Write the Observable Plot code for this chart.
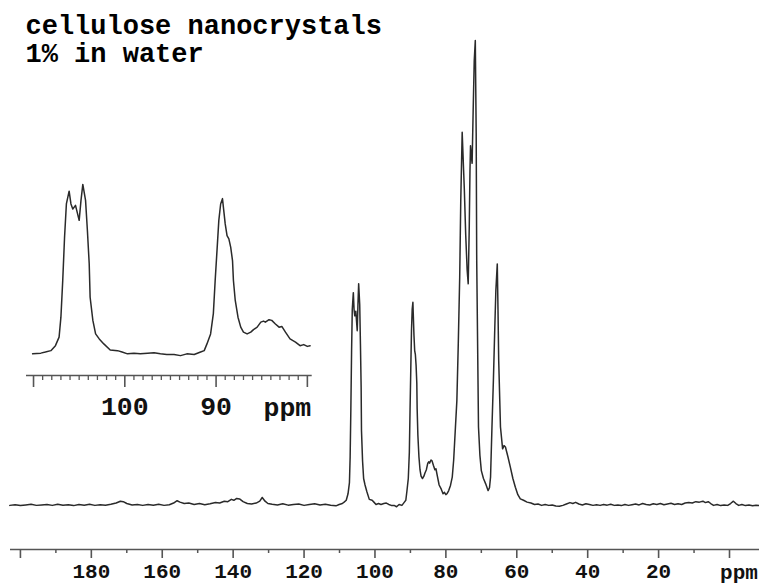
<!DOCTYPE html>
<html>
<head>
<meta charset="utf-8">
<script src="https://cdn.jsdelivr.net/npm/d3@7"></script>
<script src="https://cdn.jsdelivr.net/npm/@observablehq/plot@0.6"></script>
<style>
  body { margin: 0; background: #fff; }
  #chart { position: relative; width: 759px; height: 583px; overflow: hidden; }
  #chart svg { position: absolute; }
</style>
</head>
<body>
<div id="chart"></div>
<script>
// 13C NMR spectrum of cellulose nanocrystals, 1% in water
const titleLines = ["cellulose nanocrystals", "1% in water"];
const unitLabel = "ppm";

// chemical shift (ppm), high to low
const ppm = [
  203.0, 201.5, 200.0, 198.5, 197.0, 195.5, 194.0, 192.5, 191.0, 189.5,
  188.0, 186.5, 185.0, 183.5, 182.0, 180.5, 179.0, 177.5, 176.0, 174.5,
  173.0, 171.8, 171.0, 170.0, 168.5, 167.0, 165.5, 164.0, 162.5, 161.0,
  159.5, 158.0, 156.8, 155.8, 155.0, 153.8, 152.5, 151.0, 149.5, 148.0,
  146.5, 145.0, 143.8, 142.5, 141.5, 140.5, 139.8, 139.0, 138.2, 137.2,
  136.0, 134.8, 133.5, 132.5, 131.8, 131.0, 130.2, 129.0, 127.5, 126.0,
  124.5, 123.0, 121.5, 120.0, 118.5, 117.0, 115.5, 114.0, 112.5, 111.0,
  110.1, 109.2, 108.7, 108.1, 107.6, 107.2, 107.0, 106.8, 106.6, 106.4,
  106.1, 105.9, 105.7, 105.4, 105.0, 104.8, 104.6, 104.3, 104.1, 103.9,
  103.8, 103.5, 103.2, 102.8, 102.3, 101.6, 100.8, 100.3, 99.7, 99.0,
  98.3, 97.5, 96.8, 96.1, 95.4, 94.6, 93.9, 93.2, 92.4, 91.7,
  91.3, 91.0, 90.6, 90.3, 90.1, 89.9, 89.7, 89.5, 89.3, 89.2,
  89.0, 88.8, 88.6, 88.4, 88.2, 88.1, 87.9, 87.6, 87.3, 87.0,
  86.6, 86.2, 85.9, 85.5, 85.1, 84.8, 84.6, 84.2, 83.9, 83.5,
  83.1, 82.8, 82.4, 81.9, 81.3, 80.8, 80.4, 80.0, 79.7, 79.2,
  78.7, 78.2, 77.8, 77.3, 76.9, 76.5, 76.1, 75.8, 75.4, 75.0,
  74.8, 74.4, 74.0, 73.7, 73.4, 73.2, 73.05, 72.8, 72.6, 72.3,
  72.0, 71.7, 71.45, 71.3, 71.0, 70.8, 70.4, 70.0, 69.4, 68.8,
  68.1, 67.7, 67.4, 67.0, 66.6, 66.2, 65.9, 65.5, 65.3, 65.1,
  64.6, 64.0, 63.6, 63.2, 62.5, 61.8, 61.1, 60.4, 59.7, 59.0,
  58.1, 57.1, 56.0, 55.0, 54.0, 53.0, 52.0, 51.0, 50.0, 49.0,
  48.0, 47.0, 46.0, 45.0, 44.2, 43.4, 42.5, 41.5, 40.5, 39.5,
  38.5, 37.5, 36.5, 35.5, 34.5, 33.5, 32.5, 31.5, 30.5, 29.5,
  28.5, 27.5, 26.5, 25.5, 24.5, 23.5, 22.5, 21.5, 20.5, 19.5,
  18.5, 17.5, 16.5, 15.5, 14.5, 13.5, 12.5, 11.5, 10.5, 9.5,
  8.5, 7.5, 6.8, 6.0, 5.3, 4.5, 3.5, 2.5, 1.5, 0.5,
  -0.3, -1.1, -1.8, -2.6, -3.5, -4.5, -5.5, -6.5, -7.5, -8.4
];

// signal intensity (arbitrary units, tallest line = 100)
const intensity = [
  -0.3, -0.15, -0.35, -0.2, -0.05, -0.3, -0.2, -0.1, -0.3, -0.05,
  -0.25, -0.15, -0.35, -0.1, -0.25, -0.05, -0.3, -0.15, -0.25, -0.05,
  0.2, 0.6, 0.5, 0.1, -0.2, -0.1, -0.3, -0.1, -0.25, -0.05,
  -0.3, -0.15, 0.2, 0.7, 0.4, 0.1, 0.2, -0.1, 0.1, -0.15,
  0.05, 0.3, 0.2, 0.6, 0.5, 1.0, 0.8, 1.2, 1.1, 0.5,
  0.1, 0.0, 0.2, 0.6, 1.4, 0.6, 0.1, -0.05, -0.2, 0.05,
  -0.25, -0.1, 0.0, -0.3, -0.1, 0.05, -0.2, -0.05, -0.25, -0.4,
  -0.1, 0.1, 0.4, 0.8, 2.2, 4.6, 10.2, 20.5, 32.7, 42.0,
  45.6, 42.0, 40.6, 41.6, 37.4, 43.0, 47.5, 43.0, 34.6, 25.2,
  15.8, 9.3, 5.5, 4.1, 2.7, 1.0, 0.8, 0.4, -0.1, 0.1,
  -0.1, 0.1, 0.2, -0.1, -0.3, -0.3, -0.6, -0.1, -0.3, 0.4,
  0.8, 2.7, 5.5, 11.2, 20.5, 28.9, 37.4, 42.0, 43.5, 41.1,
  36.4, 33.1, 32.2, 29.9, 26.1, 20.5, 14.9, 10.2, 7.4, 6.0,
  5.5, 6.0, 6.7, 7.4, 8.8, 9.1, 8.8, 9.5, 9.3, 8.3,
  7.4, 7.6, 6.0, 4.1, 3.2, 2.2, 2.5, 2.0, 2.2, 2.9,
  4.0, 5.8, 9.5, 16.6, 22.3, 34.6, 48.9, 65.5, 80.2, 72.0,
  68.0, 58.0, 50.5, 47.5, 60.0, 72.0, 77.3, 75.0, 73.5, 85.0,
  95.7, 100.0, 80.0, 52.5, 31.0, 16.6, 10.5, 7.2, 5.5, 4.4,
  2.9, 3.5, 5.8, 16.6, 26.6, 38.1, 46.1, 51.8, 42.0, 31.0,
  16.6, 11.9, 12.6, 12.3, 10.2, 7.9, 5.5, 3.6, 2.0, 1.1,
  0.8, 0.4, 0.2, -0.1, 0.0, -0.3, -0.1, -0.3, -0.2, -0.45,
  -0.5, -0.3, 0.0, 0.3, 0.1, 0.35, 0.0, -0.2, 0.05, -0.1,
  -0.3, -0.15, -0.3, -0.1, -0.25, -0.05, -0.3, -0.2, -0.35, -0.1,
  -0.3, -0.15, 0.0, -0.2, 0.1, -0.1, -0.2, 0.05, -0.1, 0.1,
  -0.15, 0.0, 0.15, -0.1, 0.05, -0.1, 0.2, 0.3, 0.2, 0.5,
  0.4, 0.6, 0.3, 0.5, 0.1, -0.3, -0.1, -0.35, -0.2, -0.3,
  0.1, 0.6, 0.1, -0.3, -0.1, -0.35, -0.2, -0.4, -0.25, -0.35
];

// full-range axis
const mainMajorTicks = [200, 180, 160, 140, 120, 100, 80, 60, 40, 20, 0];
const mainTickLabels = ["", "180", "160", "140", "120", "100", "80", "60", "40", "20", ""];
const mainMinorTicks = [190, 170, 150, 130, 110, 90, 70, 50, 30, 10];

// expanded 80–110 ppm axis
const insetMajorTicks = [110, 100, 90, 80];
const insetTickLabels = ["", "100", "90", ""];
const insetMinorTicks = d3.range(81, 110).filter(d => d % 10 !== 0);

const spectrum = ppm.map((p, k) => ({ppm: p, i: intensity[k]}));
const font = "'Liberation Mono', 'Courier New', monospace";
const ink = "#111";
const axisGray = "#555";
const lineColor = "#2a2a2a";

const main = Plot.plot({
  width: 759,
  height: 583,
  marginLeft: 10,
  marginRight: 0,
  marginTop: 40,
  marginBottom: 34,
  x: {domain: [202.8, -8.46], label: null},
  y: {domain: [-9.82, 100], axis: null},
  style: {fontFamily: font, fontWeight: "bold", fontSize: "21px", color: ink, background: "transparent", overflow: "visible"},
  marks: [
    Plot.ruleY([-9.82], {stroke: axisGray, strokeWidth: 1.6}),
    Plot.axisX({ticks: mainMinorTicks, tickSize: 4, tickFormat: () => "", stroke: axisGray, strokeWidth: 1.5, label: null}),
    Plot.axisX({
      ticks: mainMajorTicks, tickSize: 9, tickPadding: 5, label: null,
      tickFormat: d => mainTickLabels[mainMajorTicks.indexOf(d)],
      stroke: axisGray, strokeWidth: 1.6, fill: ink
    }),
    Plot.text([unitLabel], {x: 0, y: -9.82, text: d => d, dx: 9.5, dy: 29, lineAnchor: "bottom", fill: ink}),
    Plot.text([titleLines[0]], {frameAnchor: "top-left", text: d => d, dx: 15, dy: -7, lineAnchor: "bottom", textAnchor: "start", fontSize: 27, fill: "#000"}),
    Plot.text([titleLines[1]], {frameAnchor: "top-left", text: d => d, dx: 15, dy: 21.5, lineAnchor: "bottom", textAnchor: "start", fontSize: 27, fill: "#000"}),
    Plot.line(spectrum, {x: "ppm", y: "i", stroke: lineColor, strokeWidth: 1.5})
  ]
});
main.style.left = "0px";
main.style.top = "0px";

const insetData = spectrum.filter(d => d.ppm <= 110.95 && d.ppm >= 79.6);

const inset = Plot.plot({
  width: 320,
  height: 250,
  marginLeft: 26,
  marginRight: 8.3,
  marginTop: 0,
  marginBottom: 45,
  x: {domain: [110.77, 79.47], label: null},
  y: {domain: [-6.18, 51.4], axis: null},
  style: {fontFamily: font, fontWeight: "bold", fontSize: "26.5px", color: ink, background: "transparent", overflow: "visible"},
  marks: [
    Plot.ruleY([-6.18], {stroke: axisGray, strokeWidth: 1.6}),
    Plot.axisX({ticks: insetMinorTicks, tickSize: 5, tickFormat: () => "", stroke: axisGray, strokeWidth: 1.3, label: null}),
    Plot.axisX({
      ticks: insetMajorTicks, tickSize: 12, tickPadding: 9, label: null,
      tickFormat: d => insetTickLabels[insetMajorTicks.indexOf(d)],
      stroke: axisGray, strokeWidth: 1.6, fill: ink
    }),
    Plot.text([unitLabel], {x: 80, y: -6.18, text: d => d, dx: -20, dy: 40, lineAnchor: "bottom", fill: ink}),
    Plot.line(insetData, {x: "ppm", y: "i", stroke: lineColor, strokeWidth: 1.5})
  ]
});
inset.style.left = "0px";
inset.style.top = "170px";

const chart = document.getElementById("chart");
chart.appendChild(main);
chart.appendChild(inset);
</script>
</body>
</html>
